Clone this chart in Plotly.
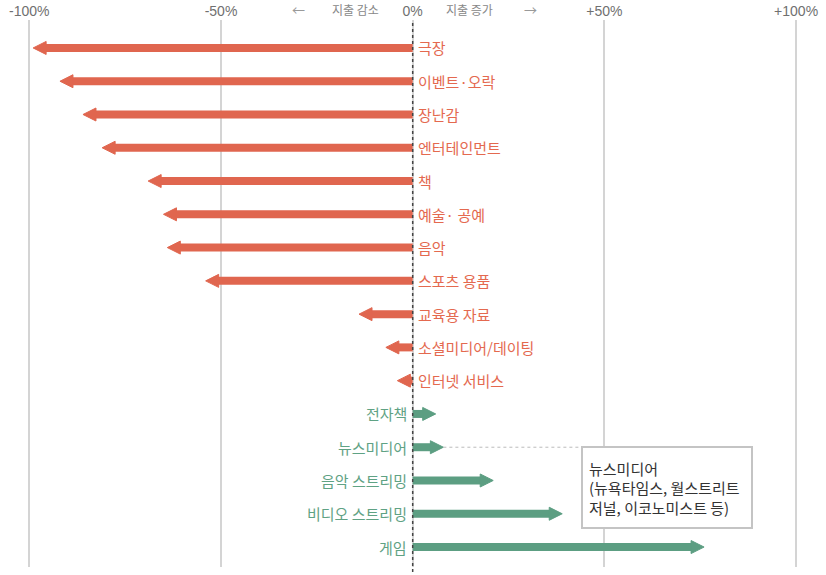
import plotly.graph_objects as go

categories = ["극장", "이벤트·오락", "장난감", "엔터테인먼트", "책", "예술· 공예", "음악",
              "스포츠 용품", "교육용 자료", "소셜미디어/데이팅", "인터넷 서비스",
              "전자책", "뉴스미디어", "음악 스트리밍", "비디오 스트리밍", "게임"]
values = [-99, -92, -86, -81, -69, -65, -64, -54, -14, -7, -4, 6, 8, 21, 39, 76]
tick_vals = [-100, -50, 0, 50, 100]
tick_text = ["-100%", "-50%", "0%", "+50%", "+100%"]
note_category = "뉴스미디어"
note_text = "뉴스미디어<br>(뉴욕타임스, 월스트리트<br>저널, 이코노미스트 등)"

RED = "#E0664F"
GREEN = "#5C9E82"
RED_TXT = "#E4694F"
GREEN_TXT = "#5FA284"
KFONT = "Noto Sans CJK KR, sans-serif"

fig = go.Figure()
annotations = []
for i, (cat, v) in enumerate(zip(categories, values)):
    col = RED if v < 0 else GREEN
    fig.add_trace(go.Scatter(
        x=[0, v], y=[i, i], mode="lines+markers",
        line=dict(color=col, width=8, backoff=8),
        marker=dict(symbol=["circle", "arrow-left" if v < 0 else "arrow-right"],
                    size=[0, 13], color=col, opacity=1,
                    line=dict(width=1, color=col)),
        opacity=1, hoverinfo="skip", showlegend=False, cliponaxis=False))
    annotations.append(dict(
        x=0, y=i, xref="x", yref="y", text=cat, showarrow=False,
        xanchor="left" if v < 0 else "right", xshift=3 if v < 0 else -4,
        yanchor="middle",
        font=dict(family=KFONT, size=15, color=RED_TXT if v < 0 else GREEN_TXT)))

# dotted connector from the news-media arrow to the note box
ni = categories.index(note_category)
fig.add_trace(go.Scatter(
    x=[values[ni], 43.9], y=[ni, ni], mode="lines",
    line=dict(color="#BBBBBB", width=1, dash="dot", backoff=0),
    hoverinfo="skip", showlegend=False))

annotations.append(dict(
    x=43.9, y=ni, xref="x", yref="y", text=note_text, showarrow=False,
    xanchor="left", yanchor="top", align="left", valign="middle", yshift=1,
    width=156, height=67,
    bgcolor="white", bordercolor="#C4C4C4", borderwidth=2, borderpad=6,
    font=dict(family=KFONT, size=15, color="#333333")))

# header labels
hdr = [("←", -29.9, 13, "#999999"), ("지출 감소", -14.8, 12, "#888888"),
       ("지출 증가", 14.9, 12, "#888888"), ("→", 30.6, 13, "#999999")]
for t, xv, fs, c in hdr:
    annotations.append(dict(x=xv, y=1, xref="x", yref="paper", yanchor="middle",
                            yshift=11, text=t, showarrow=False,
                            font=dict(family=KFONT, size=fs, color=c)))

fig.update_layout(
    width=826, height=575, margin=dict(l=0, r=0, t=20, b=8),
    paper_bgcolor="white", plot_bgcolor="white",
    annotations=annotations,
    shapes=[dict(type="line", xref="x", yref="paper", x0=0, x1=0, y0=-0.02, y1=1,
                 line=dict(color="#444444", width=1.5, dash="dot"), layer="above")],
    xaxis=dict(range=[-107.64, 107.8], side="top", tickvals=tick_vals, ticktext=tick_text,
               showgrid=True, gridcolor="#D4D4D4", gridwidth=1.5, zeroline=False,
               showline=False, ticks="", ticklabelstandoff=0,
               tickfont=dict(family="Liberation Sans, Arial, sans-serif", size=14, color="#707070"),
               fixedrange=True),
    yaxis=dict(range=[15.6, -0.84], visible=False, showgrid=False, zeroline=False,
               fixedrange=True),
)

fig.write_html("out.html", config={"displayModeBar": False},
               post_script="document.body.style.margin='0';document.body.style.overflow='hidden';")
